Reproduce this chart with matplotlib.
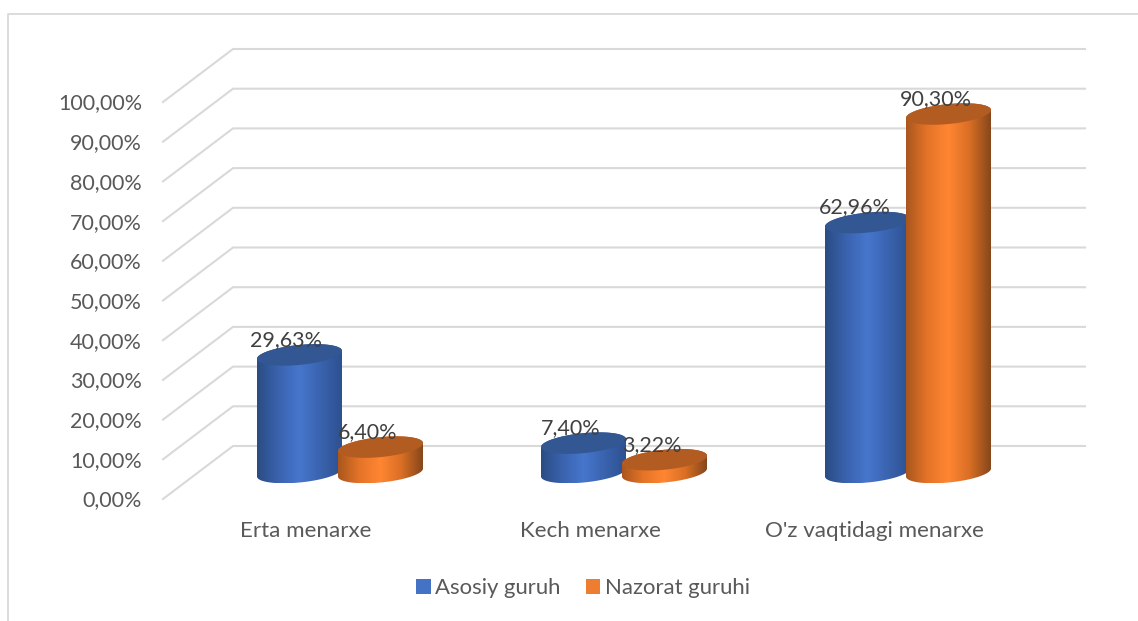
import numpy as np
from matplotlib import pyplot as plt
from matplotlib.colors import LinearSegmentedColormap
from matplotlib.patches import Patch, PathPatch, Polygon
from matplotlib.path import Path

categories = ["Erta menarxe", "Kech menarxe", "O'z vaqtidagi menarxe"]
asosiy = [29.63, 7.40, 62.96]
nazorat = [6.40, 3.22, 90.30]
asosiy_labels = ["29,63%", "7,40%", "62,96%"]
nazorat_labels = ["6,40%", "3,22%", "90,30%"]
y_ticks = [0, 10, 20, 30, 40, 50, 60, 70, 80, 90, 100]
y_tick_labels = ["0,00%", "10,00%", "20,00%", "30,00%", "40,00%", "50,00%", "60,00%", "70,00%", "80,00%", "90,00%", "100,00%"]

W, H = 1138, 621
PX_X = 284.0  # pixels per category
PX_Y = 3.97  # pixels per percent
X0, Y0 = 340.0, 472.5  # pixel position of category 0, 0 % at mid depth


def dx(px):
    return px / PX_X


def dy(px):
    return px / PX_Y


plt.rcParams["font.family"] = ["Lato", "DejaVu Sans"]
fig = plt.figure(figsize=(W / 100, H / 100), dpi=100)
ax = fig.add_axes([0, 0, 1, 1])
xlim = ((0 - X0) / PX_X, (W - X0) / PX_X)
ylim = ((Y0 - H) / PX_Y, Y0 / PX_Y)
ax.axis("off")

# 3d floor depth: back wall is up and right of the bars, front edge down and left
BACK_X, BACK_Y = dx(-107), dy(26.5)
FRONT_X, FRONT_Y = dx(-177), dy(-26.5)
RIGHT_X = dx(745)
GRID = "#D9D9D9"

for v in y_ticks:
    ax.plot([FRONT_X, BACK_X, RIGHT_X], [v + FRONT_Y, v + BACK_Y, v + BACK_Y], color=GRID, lw=1.5, zorder=1)

# chart border
ax.plot([dx(8.5 - X0), dx(8.5 - X0), dx(W - X0)], [ylim[0], dy(Y0 - 14), dy(Y0 - 14)], color=GRID, lw=1.3, zorder=1)

A = dx(42.5)  # cylinder half width
B = dy(10.0)  # ellipse half height
TILT = dy(4.0)  # right side of the ellipse sits higher


def ellipse(cx, cy, t):
    return cx + A * np.cos(t), cy + TILT * np.cos(t) + B * np.sin(t)


def cylinder(cx, value, colors, top_color, z):
    t_lower = np.linspace(np.pi, 2 * np.pi, 60)
    t_upper = np.linspace(0, np.pi, 60)
    xb, yb = ellipse(cx, 0, t_lower)
    xt, yt = ellipse(cx, value, t_upper)
    verts = np.column_stack([np.r_[xb, xt], np.r_[yb, yt]])
    body = Polygon(verts, closed=True, facecolor="none", edgecolor="none", transform=ax.transData)
    ax.add_patch(body)
    cmap = LinearSegmentedColormap.from_list("cyl", colors)
    grad = np.linspace(0, 1, 256).reshape(1, -1)
    im = ax.imshow(grad, cmap=cmap, aspect="auto", zorder=z, interpolation="bilinear",
                   extent=(cx - A, cx + A, yb.min(), yt.max()))
    im.set_clip_path(body)
    t = np.linspace(0, 2 * np.pi, 120)
    xe, ye = ellipse(cx, value, t)
    ax.add_patch(PathPatch(Path(np.column_stack([xe, ye])), facecolor=top_color, edgecolor="none", zorder=z + 0.1))


BLUE_GRAD = ["#2B4C84", "#3A63AE", "#4676CD", "#3A63AE", "#2D5190"]
ORANGE_GRAD = ["#A9561E", "#E57428", "#FF8632", "#D96E25", "#85471A"]
BAR_DX = dx(40.5)
NUM_SIZE = 15.5
CAT_SIZE = 16.1

for i in range(len(categories)):
    cylinder(i - BAR_DX, asosiy[i], BLUE_GRAD, "#325792", 3)
    cylinder(i + BAR_DX, nazorat[i], ORANGE_GRAD, "#B35C22", 4)

    ax.text(i - BAR_DX - dx(13), asosiy[i] + dy(15), asosiy_labels[i], ha="center", va="center",
            color="#404040", fontsize=NUM_SIZE, zorder=6)
    ax.text(i + BAR_DX - dx(13), nazorat[i] + dy(15), nazorat_labels[i], ha="center", va="center",
            color="#404040", fontsize=NUM_SIZE, zorder=6)
    ax.text(i + dx(-34), dy(-58.5), categories[i], ha="center", va="center", color="#595959", fontsize=CAT_SIZE, zorder=6)

for v, lab in zip(y_ticks, y_tick_labels):
    ax.text(dx(142 - X0), v + FRONT_Y + dy(-1.5), lab, ha="right", va="center", color="#595959", fontsize=NUM_SIZE, zorder=6)

handles = [Patch(facecolor="#4472C4", label="Asosiy guruh"), Patch(facecolor="#ED7D31", label="Nazorat guruhi")]
ax.legend(handles=handles, loc="center", bbox_to_anchor=(583 / W, 1 - 588 / H), ncol=2, frameon=False, fontsize=15.9,
          labelcolor="#595959", handlelength=0.65, handleheight=0.65, handletextpad=0.2, columnspacing=1.15)

ax.set_xlim(xlim)
ax.set_ylim(ylim)
fig.savefig("out.png", dpi=100, facecolor="white")
